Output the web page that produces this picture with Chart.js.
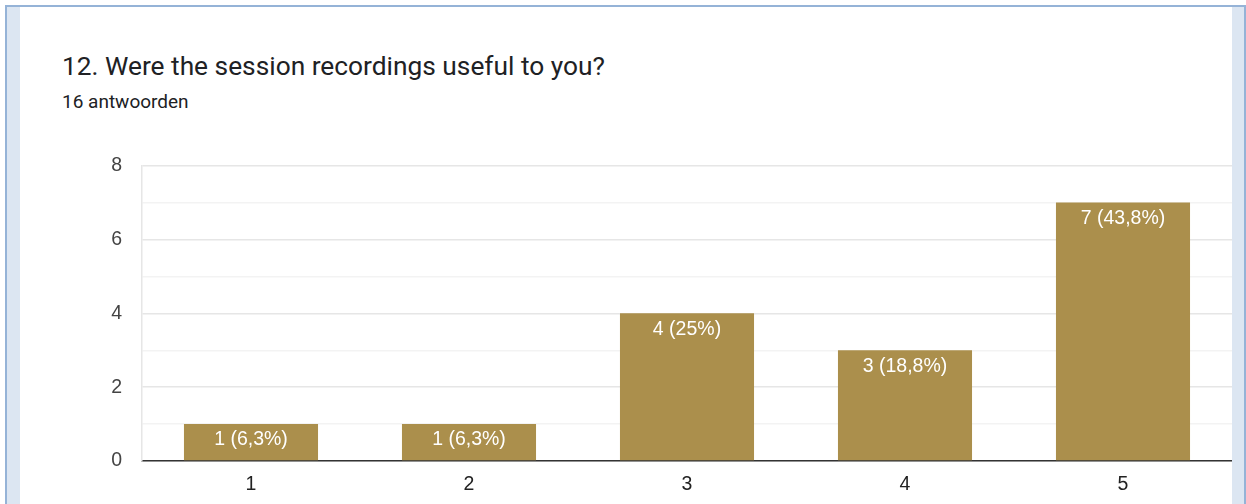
<!DOCTYPE html>
<html>
<head>
<meta charset="utf-8">
<script src="https://cdn.jsdelivr.net/npm/chart.js@4/dist/chart.umd.min.js"></script>
<style>
    html, body { margin: 0; padding: 0; background: #fff; }
    body { width: 1246px; height: 504px; position: relative; overflow: hidden; }
    .frame {
        position: absolute; left: 5px; top: 5px; width: 1237px; height: 510px;
        border: 2px solid #95b3d7; border-bottom: none;
        background: #dce6f2;
    }
    .card {
        position: absolute; left: 20px; top: 7px; width: 1212px; height: 497px;
        background: #fff;
    }
    .title {
        position: absolute; left: 42px; top: 44px; margin: 0;
        font-family: Roboto, Arial, sans-serif; font-size: 26.3px; font-weight: 400;
        color: #202124; white-space: nowrap;
    }
    .sub {
        position: absolute; left: 42px; top: 83px;
        font-family: Roboto, Arial, sans-serif; font-size: 19px;
        color: #202124;
    }
    .chart-box { position: absolute; left: 0; top: 127px; width: 1212px; height: 370px; }
</style>
</head>
<body>
<div class="frame"></div>
<div class="card">
    <h2 class="title">12. Were the session recordings useful to you?</h2>
    <div class="sub">16 antwoorden</div>
    <div class="chart-box"><canvas id="myChart"></canvas></div>
</div>
<script>
const categories = ['1', '2', '3', '4', '5'];
const counts = [1, 1, 4, 3, 7];
const percents = ['6,3%', '6,3%', '25%', '18,8%', '43,8%'];
const yTicks = [0, 2, 4, 6, 8];

const FONT = 'Arial, "Liberation Sans", sans-serif';

// white "n (p%)" text at the top of each bar
const barLabels = {
    id: 'barLabels',
    afterDatasetsDraw(chart) {
        const ctx = chart.ctx;
        const meta = chart.getDatasetMeta(0);
        ctx.save();
        ctx.fillStyle = '#ffffff';
        ctx.font = '19.5px ' + FONT;
        ctx.textAlign = 'center';
        ctx.textBaseline = 'middle';
        meta.data.forEach((bar, i) => {
            ctx.fillText(counts[i] + ' (' + percents[i] + ')', bar.x, bar.y + 16);
        });
        ctx.restore();
    }
};

const ctx = document.getElementById('myChart').getContext('2d');
const myChart = new Chart(ctx, {
    type: 'bar',
    data: {
        labels: categories,
        datasets: [{
            data: counts,
            backgroundColor: '#ab8f4c',
            borderWidth: 0,
            barPercentage: 0.615,
            categoryPercentage: 1
        }]
    },
    plugins: [barLabels],
    options: {
        responsive: true,
        maintainAspectRatio: false,
        animation: false,
        layout: { padding: 0 },
        plugins: {
            legend: { display: false },
            tooltip: { enabled: false }
        },
        scales: {
            x: {
                grid: { display: false, drawTicks: false },
                border: { color: '#333333', width: 1.5 },
                ticks: {
                    color: '#222222',
                    padding: 12,
                    font: { family: FONT, size: 19.5 }
                },
                afterFit(scale) { scale.height = 43; }
            },
            y: {
                min: 0,
                max: 8,
                grid: {
                    drawTicks: false,
                    color: (c) => (c.tick && c.tick.value % 2 === 0) ? '#e6e6e6' : '#f3f3f3',
                    lineWidth: 1.5
                },
                border: { color: '#e6e6e6', width: 1.5 },
                ticks: {
                    stepSize: 1,
                    color: '#444444',
                    padding: 20,
                    font: { family: FONT, size: 19.5 },
                    callback: (v) => yTicks.includes(v) ? String(v) : ''
                },
                afterFit(scale) { scale.width = 122; }
            }
        }
    }
});
</script>
</body>
</html>
